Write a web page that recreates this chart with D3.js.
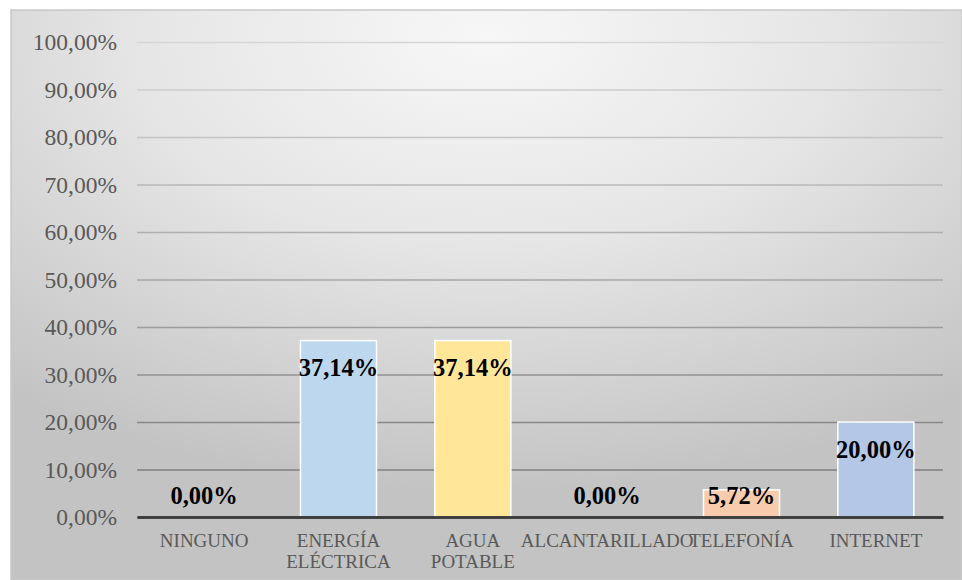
<!DOCTYPE html>
<html>
<head>
<meta charset="utf-8">
<script src="https://cdn.jsdelivr.net/npm/d3@7"></script>
<style>
  html, body { margin: 0; padding: 0; background: #ffffff; }
  svg { display: block; }
</style>
</head>
<body>
<div id="chart"></div>
<script>
// datos del gráfico
const categorias = ["NINGUNO", "ENERGÍA ELÉCTRICA", "AGUA POTABLE", "ALCANTARILLADO", "TELEFONÍA", "INTERNET"];
const valores = [0, 37.14, 37.14, 0, 5.72, 20.00];
const colores = ["#bdd7ee", "#bdd7ee", "#ffe699", "#f8cbad", "#f8cbad", "#b4c7e7"];
const ticksY = [0, 10, 20, 30, 40, 50, 60, 70, 80, 90, 100];

const W = 962, H = 580;
const margin = { top: 42, right: 19, bottom: 63, left: 137 };
const width = W - margin.left - margin.right;
const height = H - margin.top - margin.bottom;

const svg = d3.select("#chart")
    .append("svg")
    .attr("width", W)
    .attr("height", H);

// fondo con degradado radial
const defs = svg.append("defs");
const grad = defs.append("radialGradient")
    .attr("id", "fondo")
    .attr("cx", "50%").attr("cy", "5%")
    .attr("r", "80%");
grad.append("stop").attr("offset", "0%").attr("stop-color", "#f7f7f7");
grad.append("stop").attr("offset", "45%").attr("stop-color", "#e6e6e6");
grad.append("stop").attr("offset", "100%").attr("stop-color", "#c3c3c3");

svg.append("rect")
    .attr("x", 11).attr("y", 10)
    .attr("width", W - 11).attr("height", H - 10)
    .attr("fill", "url(#fondo)")
    .attr("stroke", "#c8c8c8")
    .attr("stroke-width", 1.5);

const g = svg.append("g")
    .attr("transform", `translate(${margin.left},${margin.top})`);

const x = d3.scaleBand()
    .domain(categorias)
    .range([0, width])
    .paddingInner(0.434)
    .paddingOuter(0.217);

const y = d3.scaleLinear()
    .domain([0, 100])
    .range([height, 0]);

const fmt = v => d3.format(".2f")(v).replace(".", ",") + "%";
const colorLinea = d3.interpolateRgb("#757575", "#d6d6d6");

// eje Y con líneas de cuadrícula
g.append("g")
    .call(d3.axisLeft(y).tickValues(ticksY).tickSize(-width).tickPadding(20).tickFormat(fmt))
    .call(g => g.select(".domain").remove())
    .call(g => g.selectAll(".tick line")
        .attr("stroke", d => colorLinea(d / 100))
        .attr("stroke-width", 1.6))
    .call(g => g.selectAll(".tick text")
        .attr("fill", "#595959")
        .attr("font-family", "'Liberation Serif', 'Times New Roman', serif")
        .attr("font-size", "23.5px"));

// barras
g.selectAll(".barra")
    .data(valores)
    .join("rect")
    .attr("class", "barra")
    .attr("x", (d, i) => x(categorias[i]))
    .attr("y", d => y(d))
    .attr("width", x.bandwidth())
    .attr("height", d => height - y(d))
    .attr("fill", (d, i) => colores[i])
    .attr("stroke", "#ffffff")
    .attr("stroke-width", 1.5);

// eje X
g.append("g")
    .attr("transform", `translate(0,${height})`)
    .call(d3.axisBottom(x).tickSize(0).tickFormat(""))
    .call(g => g.select(".domain").attr("stroke", "#404040").attr("stroke-width", 3));

// etiquetas de categoría
const etiq = g.append("g")
    .selectAll("text")
    .data(categorias)
    .join("text")
    .attr("x", d => x(d) + x.bandwidth() / 2)
    .attr("y", height + 30)
    .attr("text-anchor", "middle")
    .attr("fill", "#595959")
    .attr("font-family", "'Liberation Serif', 'Times New Roman', serif")
    .attr("font-size", "19px");

etiq.selectAll("tspan")
    .data(d => d.split(" ").map(t => ({ t, cx: x(d) + x.bandwidth() / 2 })))
    .join("tspan")
    .attr("x", d => d.cx)
    .attr("dy", (d, i) => i === 0 ? 0 : "1.1em")
    .text(d => d.t);

// etiquetas de datos
g.selectAll(".dato")
    .data(valores)
    .join("text")
    .attr("class", "dato")
    .attr("x", (d, i) => x(categorias[i]) + x.bandwidth() / 2)
    .attr("y", d => Math.min(y(d) + 27, height - 22))
    .attr("dy", "0.35em")
    .attr("text-anchor", "middle")
    .attr("fill", "#000000")
    .attr("font-weight", "bold")
    .attr("font-family", "'Liberation Serif', 'Times New Roman', serif")
    .attr("font-size", "24.5px")
    .text(d => fmt(d));
</script>
</body>
</html>
